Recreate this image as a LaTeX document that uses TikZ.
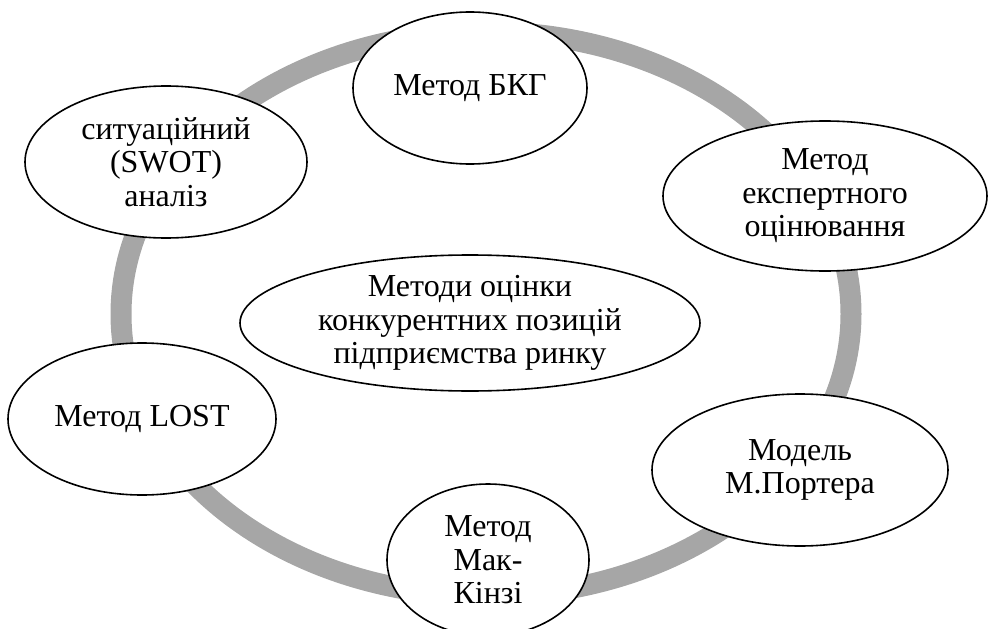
\documentclass[tikz,border=0pt]{standalone}
\usepackage{fontspec}
\setmainfont{Liberation Serif}
\usetikzlibrary{shapes.geometric}
\definecolor{ringgray}{RGB}{166,166,166}
\tikzset{
  method/.style={ellipse, draw, line width=1.6pt, fill=white, align=center, inner sep=0pt,
    font=\fontsize{32pt}{33.5pt}\selectfont},
}
\begin{document}
\begin{tikzpicture}[x=1pt, y=-1pt]
			\useasboundingbox (0,0) rectangle (989,629);
			\draw[ringgray, line width=21pt] (486,314) ellipse [x radius=365pt, y radius=282pt];
			\node[method, minimum width=234pt, minimum height=152pt] (bkg) at (470,88) {Метод БКГ};
			\node[method, minimum width=282pt, minimum height=152pt] (swot) at (166,162) {ситуаційний\\(SWOT)\\аналіз};
			\node[method, minimum width=324pt, minimum height=150pt] (expert) at (825,196) {Метод\\експертного\\оцінювання};
			\node[method, minimum width=460pt, minimum height=136pt] (main) at (470,323) {Методи оцінки\\конкурентних позицій\\підприємства ринку};
			\node[method, minimum width=268pt, minimum height=152pt] (lost) at (142,419) {Метод LOST};
			\node[method, minimum width=296pt, minimum height=152pt] (porter) at (800,470) {Модель\\М.Портера};
			\node[method, minimum width=202pt, minimum height=152pt] (mckinsey) at (488,560) {Метод\\Мак-\\Кінзі};
		\end{tikzpicture}
\end{document}
